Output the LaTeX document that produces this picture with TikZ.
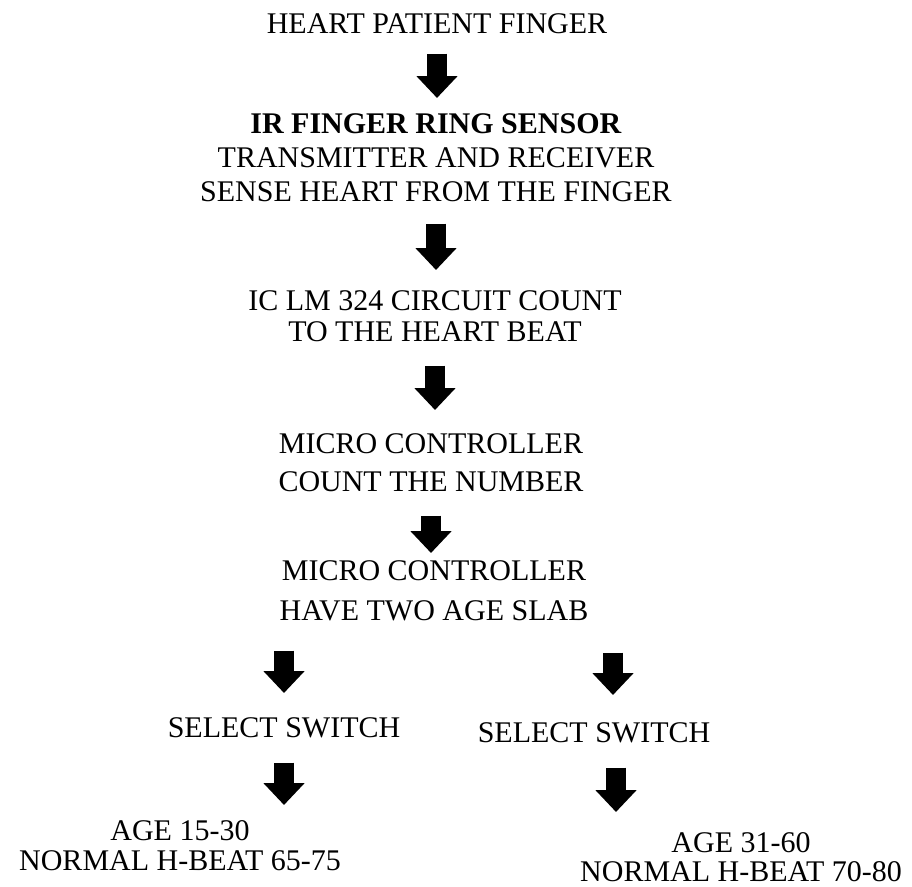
\documentclass[tikz,border=0pt]{standalone}
\usepackage{fontspec}
\setmainfont{Liberation Serif}
\usetikzlibrary{arrows.meta}
\newcommand\txtsize[1]{\fontsize{30}{#1}\selectfont}

\begin{document}
\begin{tikzpicture}[
        x=1pt, y=-1pt,
        lbl/.style={align=center, inner sep=0pt, anchor=north},
        down/.style={line width=20pt, -{Triangle[width=40pt,length=22pt]}},
        every node/.style={font=\txtsize{34}}]
        \useasboundingbox (0,0) rectangle (912,886);
        % main chain
        \node[lbl] (title) at (437,13) {HEART PATIENT FINGER};
        \node[lbl] (ir) at (436,113) {\textbf{IR FINGER RING SENSOR}\\TRANSMITTER AND RECEIVER\\SENSE HEART FROM THE FINGER};
        \node[lbl, font=\txtsize{31}] (ic) at (435,290) {IC LM 324 CIRCUIT COUNT\\TO THE HEART BEAT};
        \node[lbl, font=\txtsize{38}] (count) at (431,433) {MICRO CONTROLLER\\COUNT THE NUMBER};
        \node[lbl, font=\txtsize{40}] (slab) at (434,560) {MICRO CONTROLLER\\HAVE TWO AGE SLAB};
        % two age slabs
        \node[lbl] (sel1) at (284,717) {SELECT SWITCH};
        \node[lbl] (sel2) at (594,722) {SELECT SWITCH};
        \node[lbl, font=\txtsize{30}] (age1) at (180,820) {AGE 15-30\\NORMAL H-BEAT 65-75};
        \node[lbl, font=\txtsize{29}] (age2) at (741,832) {AGE 31-60\\NORMAL H-BEAT 70-80};

        \draw[down, shorten <=20pt, shorten >=15pt] (title) -- (title |- ir.north);
        \draw[down, shorten <=22pt, shorten >=20pt] (ir) -- (ir |- ic.north);
        \draw[down, shorten <=24pt, shorten >=23pt] (ic) -- (ic |- count.north);
        \draw[down, shorten <=24pt, shorten >=7pt] (count) -- (count |- slab.north);
        \draw[down, shorten <=30pt, shorten >=24pt] (sel1 |- slab.south) -- (sel1);
        \draw[down, shorten <=32pt, shorten >=27pt] ([xshift=19pt]sel2.north |- slab.south) -- ([xshift=19pt]sel2.north);
        \draw[down, shorten <=25pt, shorten >=15pt] (sel1) -- (sel1 |- age1.north);
        \draw[down, shorten <=25pt, shorten >=20pt] ([xshift=22pt]sel2.south) -- ([xshift=22pt]sel2.south |- age2.north);
      \end{tikzpicture}
\end{document}
